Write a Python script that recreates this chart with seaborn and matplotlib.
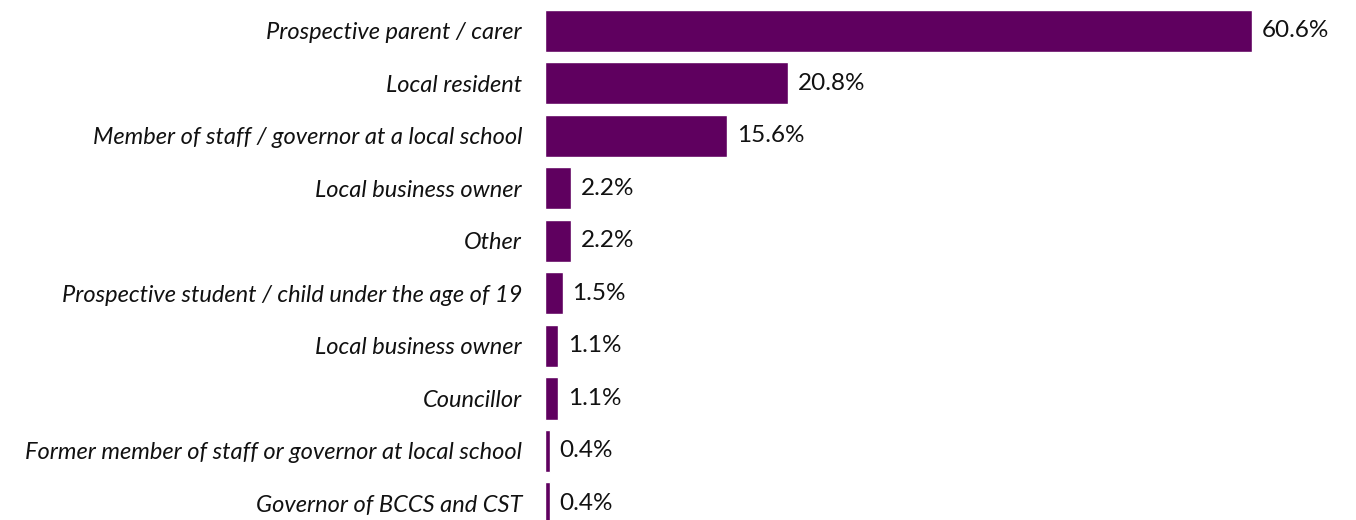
import matplotlib
matplotlib.use('Agg')
import matplotlib.pyplot as plt
import seaborn as sns
import pandas as pd

# ========== data ==========
categories = [
    'Prospective parent / carer',
    'Local resident',
    'Member of staff / governor at a local school',
    'Local business owner',
    'Other',
    'Prospective student / child under the age of 19',
    'Local business owner',
    'Councillor',
    'Former member of staff or governor at local school',
    'Governor of BCCS and CST',
]
percent = [60.6, 20.8, 15.6, 2.2, 2.2, 1.5, 1.1, 1.1, 0.4, 0.4]

# "Local business owner" appears twice, so use row ids as the category key
row_id = [str(i) for i in range(len(categories))]
df = pd.DataFrame({'row': row_id, 'percent': percent})

sns.set_theme(style='white')
plt.rcParams['font.family'] = ['Lato', 'DejaVu Sans']

fig = plt.figure(figsize=(13.56, 5.2), dpi=100)
ax = fig.add_axes([545 / 1356, 0, 811 / 1356, 1])

sns.barplot(data=df, x='percent', y='row', color='#5f005f',
            saturation=1, width=0.8, ax=ax, order=row_id)

ax.set_xlim(0, 60.6 * 811 / 707)
ax.set_ylim((520 - 31) / 52.5, -31 / 52.5)

for i, v in enumerate(percent):
    ax.annotate(f'{v}%', xy=(v, i), xytext=(7, 0), textcoords='offset points',
                ha='left', va='center', fontsize=17.5, color='#111111')

ax.set_yticks(range(len(categories)))
ax.set_yticklabels(categories, fontsize=17, fontstyle='italic', color='#111111')
ax.set_xlabel('')
ax.set_ylabel('')
ax.set_xticks([])
ax.tick_params(axis='y', length=0, pad=16.5)
sns.despine(ax=ax, left=True, bottom=True)

fig.savefig('out.png', dpi=100)
